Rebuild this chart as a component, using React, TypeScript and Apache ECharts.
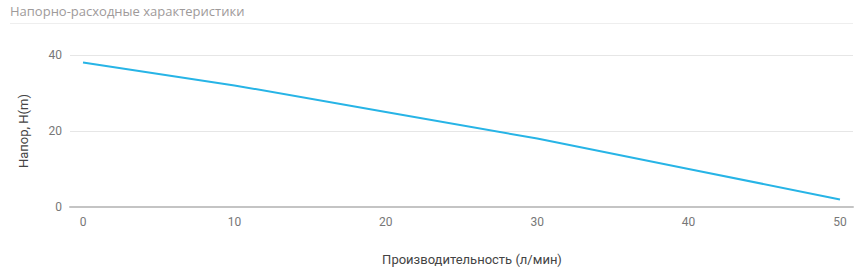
import React, { useEffect, useRef } from "react";
import * as echarts from "echarts";

const title = "Напорно-расходные характеристики";
const xName = "Производительность (л/мин)";
const yName = "Напор, H(m)";
const flowValues = [0, 10, 20, 30, 40, 50];
const headValues = [38, 32, 25, 18, 10, 2];
const xTicks = [0, 10, 20, 30, 40, 50];

export default function App() {
  const ref = useRef<HTMLDivElement>(null);
  useEffect(() => {
    if (!ref.current) return;
    const chart = echarts.init(ref.current, null, { renderer: "svg" });
    const font = "Roboto, 'Noto Sans', sans-serif";
    chart.setOption({
      animation: false,
      textStyle: { fontFamily: font },
      graphic: [
        {
          type: "text",
          left: 10,
          top: 4,
          style: { text: title, fill: "#9e9a9a", fontSize: 13, fontFamily: "'Open Sans', sans-serif" },
        },
        {
          type: "line",
          shape: { x1: 10, y1: 23.5, x2: 853, y2: 23.5 },
          style: { stroke: "#eeeeee", lineWidth: 1 },
        },
        {
          type: "text",
          x: 472,
          y: 259,
          style: {
            text: xName,
            fill: "#444",
            fontSize: 13,
            fontFamily: font,
            align: "center",
            verticalAlign: "middle",
          },
        },
      ],
      grid: { left: 70, right: 12, top: 55, bottom: 66 },
      xAxis: {
        type: "value",
        min: -0.86,
        max: 50.86,
        axisLine: { show: true, lineStyle: { color: "#c4c4c4", width: 2 } },
        axisTick: { show: false },
        splitLine: { show: false },
        axisLabel: {
          customValues: xTicks,
          color: "#777",
          fontSize: 12,
          margin: 9,
        },
      },
      yAxis: {
        type: "value",
        min: 0,
        max: 40,
        interval: 20,
        name: yName,
        nameLocation: "middle",
        nameGap: 40,
        nameTextStyle: { color: "#444", fontSize: 13 },
        axisLine: { show: false },
        axisTick: { show: false },
        axisLabel: { color: "#777", fontSize: 12, margin: 8 },
        splitLine: { lineStyle: { color: "#e6e6e6", width: 1 } },
      },
      series: [
        {
          type: "line",
          data: flowValues.map((x, i) => [x, headValues[i]]),
          showSymbol: false,
          lineStyle: { color: "#27b4e6", width: 2 },
          itemStyle: { color: "#27b4e6" },
        },
      ],
    });
    return () => chart.dispose();
  }, []);
  return (
    <div
      ref={ref}
      style={{ position: "fixed", left: 0, top: 0, width: 865, height: 273, background: "#fff" }}
    />
  );
}
